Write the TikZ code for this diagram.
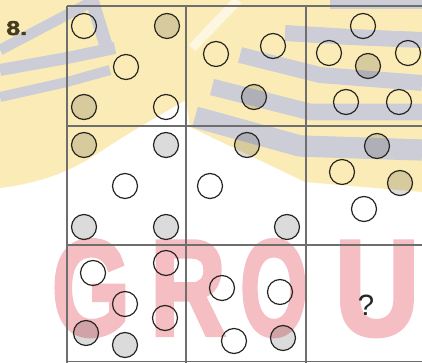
\documentclass[tikz,border=0pt]{standalone}
\usepackage{fontspec}
\setmainfont{Liberation Sans}
\newfontfamily\heavyfont{Liberation Sans}[BoldFeatures={FakeBold=3}]
\newfontfamily\labelfont{Liberation Sans}[BoldFeatures={FakeBold=2}]
\usepackage{graphicx}
\definecolor{wmyellow}{RGB}{251,236,183}
\definecolor{wmgray}{RGB}{204,205,214}
\definecolor{wmpink}{RGB}{244,190,195}
\definecolor{gridc}{RGB}{110,110,110}
\definecolor{circc}{RGB}{40,38,34}
\definecolor{labc}{RGB}{68,60,30}
\begin{document}
\begin{tikzpicture}[x=0.75pt,y=-0.75pt,
  gridline/.style={draw=gridc,line width=0.8pt},
  dot/.style={circle,draw=circc,line width=0.9pt,minimum size=18.75pt,inner sep=0pt},
  shaded/.style={dot,fill=black,fill opacity=0.14},
  band/.style={draw=wmgray,line width=#1,line cap=butt,line join=round},
  letter/.style={text=wmpink,font=\heavyfont\bfseries\fontsize{102}{102}\selectfont,inner sep=0pt,anchor=base}]
\useasboundingbox (0,0) rectangle (422,363);
% watermark
\fill[wmyellow] (0,0) -- (422,0) -- (422,192) -- (305,182) -- (190,127) -- (186,100)
  .. controls (160,115) and (125,135) .. (100,152)
  .. controls (70,172) and (40,183) .. (0,188) -- cycle;
\draw[white,line width=7pt,opacity=0.6] (238,0) -- (192,48);
\draw[band=7.5pt] (330,4) -- (422,4);
\draw[band=12pt] (285,33) -- (350,37) -- (422,40);
\draw[band=12pt] (240,55) -- (320,75) -- (422,83);
\draw[band=12.5pt] (212,87) -- (310,112) -- (422,112);
\draw[band=16pt] (195,117) -- (300,146) -- (422,150);
\draw[band=8pt] (0,50) -- (95,0);
\draw[band=9pt] (0,70) -- (67,58) -- (115,48);
\draw[band=7.5pt] (0,97) -- (67,82) -- (110,70);
\draw[band=10pt] (92,0) -- (108,52);
\node[letter] (wG) at (91,335) {\scalebox{0.74}[1]{G}};
\node[letter] (wR) at (188,335) {\scalebox{0.77}[1]{R}};
\node[letter] (wO) at (274,335) {\scalebox{0.64}[1]{O}};
\node[letter] (wU) at (377,335) {\scalebox{0.86}[1]{U}};
% grid
\draw[gridline] (67,6) -- (422,6);
\draw[gridline] (67,126) -- (422,126);
\draw[gridline] (67,245) -- (422,245);
\draw[gridline] (67,361.5) -- (422,361.5);
\draw[gridline] (67,6) -- (67,363);
\draw[gridline] (186,6) -- (186,363);
\draw[gridline] (306,6) -- (306,363);
% label
\node[anchor=base west,inner sep=0pt,text=labc,font=\labelfont\bfseries\fontsize{15}{15}\selectfont] (lab) at (6,35) {\scalebox{1.25}[1]{8.}};
% row 1
\node[dot] (a1) at (84,26) {};
\node[shaded] (a2) at (167,26) {};
\node[dot] (a3) at (126,67) {};
\node[shaded] (a4) at (84,107) {};
\node[dot] (a5) at (166,107) {};
\node[dot] (b1) at (216,54) {};
\node[dot] (b2) at (273,46) {};
\node[shaded] (b3) at (254,97) {};
\node[dot] (c1) at (363,26) {};
\node[dot] (c2) at (329,53) {};
\node[shaded] (c3) at (368,66) {};
\node[dot] (c4) at (408,53) {};
\node[dot] (c5) at (346,102) {};
\node[dot] (c6) at (399,102) {};
% row 2
\node[shaded] (d1) at (84,145) {};
\node[shaded] (d2) at (166,145) {};
\node[dot] (d3) at (125,186) {};
\node[shaded] (d4) at (84,227) {};
\node[shaded] (d5) at (166,227) {};
\node[shaded] (e1) at (247,145) {};
\node[dot] (e2) at (210,186) {};
\node[shaded] (e3) at (287,227) {};
\node[shaded] (f1) at (377,146) {};
\node[dot] (f2) at (342,172) {};
\node[shaded] (f3) at (400,183) {};
\node[dot] (f4) at (364,209) {};
% row 3
\node[dot] (g1) at (93,273) {};
\node[dot] (g2) at (166,263) {};
\node[dot] (g3) at (125,304) {};
\node[dot] (g4) at (165,318) {};
\node[shaded] (g5) at (86,333) {};
\node[shaded] (g6) at (125,345) {};
\node[dot] (h1) at (222,288) {};
\node[dot] (h2) at (280,292) {};
\node[dot] (h3) at (234,341) {};
\node[shaded] (h4) at (283,338) {};
\node[font=\fontsize{22}{22}\selectfont,inner sep=0pt,text=black!85] (q) at (366,305) {?};
\end{tikzpicture}
\end{document}
